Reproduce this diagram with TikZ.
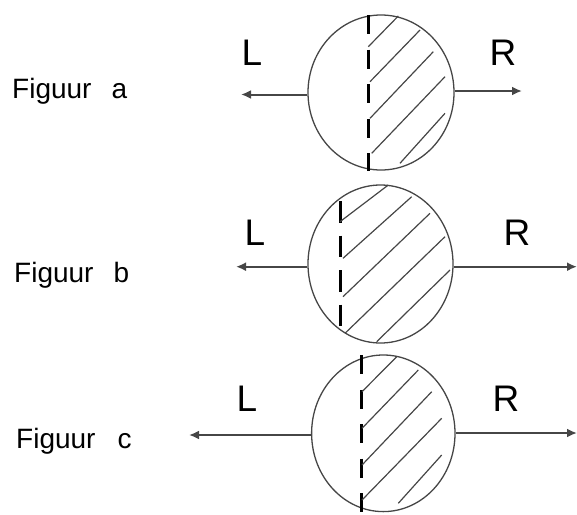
\documentclass[tikz,border=0pt]{standalone}
\usepackage{fontspec}
\setmainfont{Liberation Sans}
\usetikzlibrary{shapes.geometric,arrows.meta}
\definecolor{ink}{RGB}{70,70,70}
\tikzset{
  ball/.style={draw=ink, line width=1.3pt, ellipse, inner sep=0pt},
  divide/.style={draw=black, line width=3pt, dash pattern=on 19pt off 15.5pt},
  hatch/.style={draw=ink, line width=1.2pt},
  force/.style={draw=ink, line width=2pt, -{Latex[length=10pt,width=9pt]}},
  side/.style={font=\fontsize{37}{40}\selectfont, inner sep=0pt, anchor=base},
  caption/.style={font=\fontsize{28}{30}\selectfont, inner sep=0pt, anchor=base west}
}
\begin{document}
\begin{tikzpicture}[x=1pt,y=-1pt]
\useasboundingbox (0,0) rectangle (577,514);

% ---------- Figuur a ----------
\node[caption] (capa) at (12,98) {Figuur\hspace{20pt}a};
\node[ball, minimum width=146pt, minimum height=155pt] (ca) at (381,92.5) {};
\draw[divide] (368,15) -- (368,171);
\draw[hatch] (368.3,46.7) -- (398.3,16);
\draw[hatch] (370,81.7) -- (420,30);
\draw[hatch] (370,118.3) -- (433.3,51.7);
\draw[hatch] (371.7,153.3) -- (445,76.7);
\draw[hatch] (400,163.3) -- (445,113.3);
\coordinate (aL) at (241,94.5);
\coordinate (aR) at (522,91);
\draw[force] (ca.west |- aL) -- (aL);
\draw[force] (ca.east |- aR) -- (aR);
\node[side] (la) at (252,65) {L};
\node[side] (ra) at (503,65) {R};

% ---------- Figuur b ----------
\node[caption] (capb) at (14,282) {Figuur\hspace{20pt}b};
\node[ball, minimum width=145pt, minimum height=158pt] (cb) at (380.5,264) {};
\draw[divide, dash pattern=on 21.5pt off 13pt] (340,201) -- (340,328);
\draw[hatch] (340,221.7) -- (388.3,185);
\draw[hatch] (343,258.3) -- (411.7,196.7);
\draw[hatch] (343,296.7) -- (430,213.3);
\draw[hatch] (345,333.3) -- (445,236.7);
\draw[hatch] (376.7,341.7) -- (450,270);
\coordinate (bL) at (236,266.7);
\coordinate (bR) at (577,266.7);
\draw[force] (cb.west |- bL) -- (bL);
\draw[force] (cb.east |- bR) -- (bR);
\node[side] (lb) at (255,245) {L};
\node[side] (rb) at (517,245) {R};

% ---------- Figuur c ----------
\node[caption] (capc) at (16,448) {Figuur\hspace{22pt}c};
\node[ball, minimum width=143.4pt, minimum height=156.6pt] (cc) at (383.3,433.3) {};
\draw[divide] (361.7,355) -- (361.7,513);
\draw[hatch] (362,391.7) -- (396.7,356.7);
\draw[hatch] (362,428.3) -- (418.3,370);
\draw[hatch] (362,465) -- (431.7,391.7);
\draw[hatch] (362,500) -- (441.7,418.3);
\draw[hatch] (398.3,503.3) -- (441.7,455);
\coordinate (cL) at (189,435);
\coordinate (cR) at (577,433);
\draw[force] (cc.west |- cL) -- (cL);
\draw[force] (cc.east |- cR) -- (cR);
\node[side] (lc) at (247,411.7) {L};
\node[side] (rc) at (506,411) {R};
\end{tikzpicture}
\end{document}
